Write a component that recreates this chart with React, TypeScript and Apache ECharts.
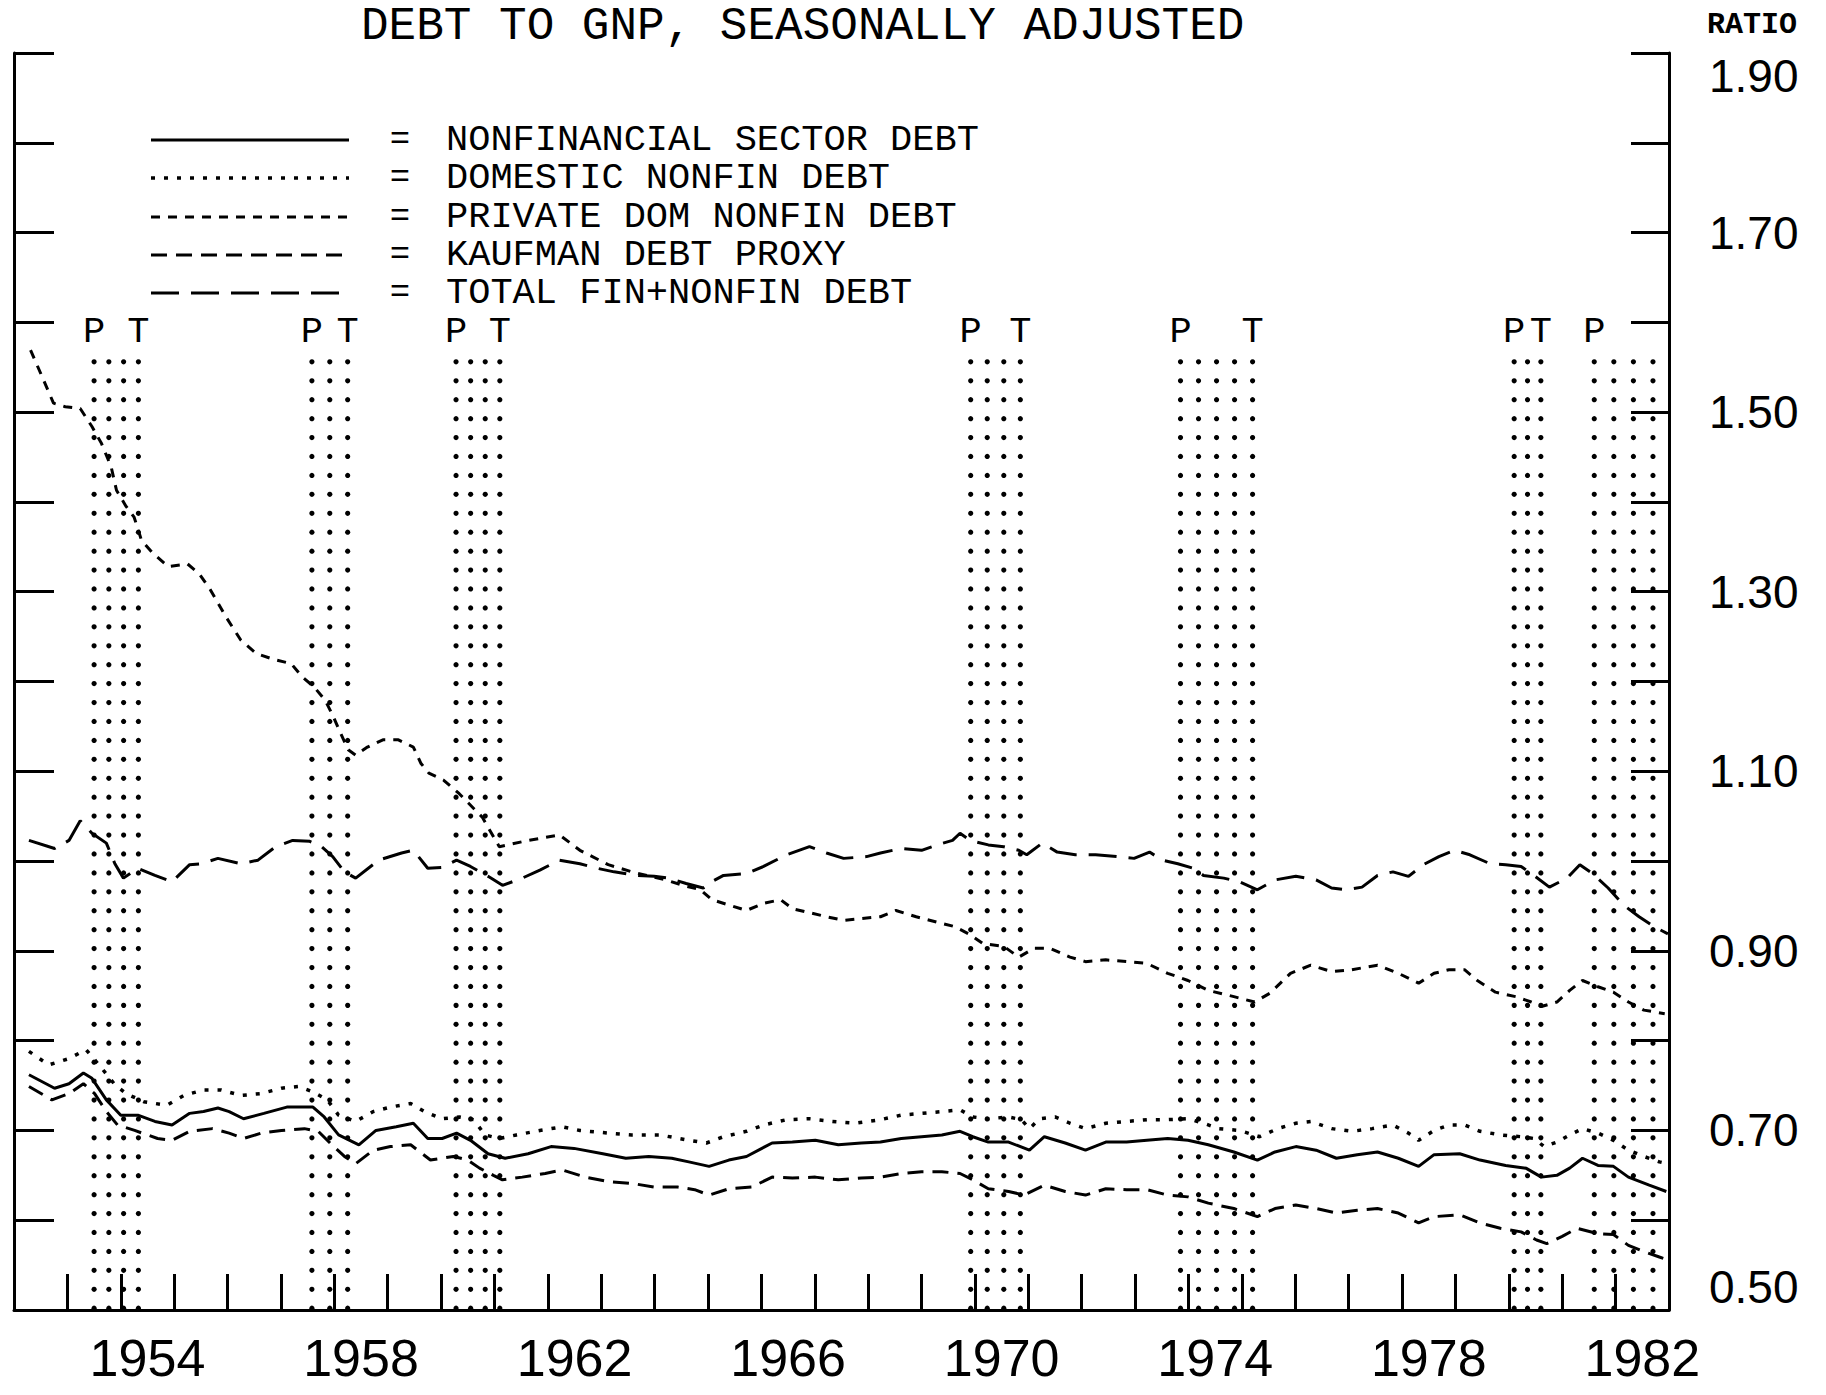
import React, { useEffect, useRef } from "react";
import * as echarts from "echarts";

const TITLE = "DEBT TO GNP, SEASONALLY ADJUSTED";
const UNIT_LABEL = "RATIO";
const SERIES_NAMES = [
  "NONFINANCIAL SECTOR DEBT",
  "DOMESTIC NONFIN DEBT",
  "PRIVATE DOM NONFIN DEBT",
  "KAUFMAN DEBT PROXY",
  "TOTAL FIN+NONFIN DEBT",
];

const nonfinYears = [
  1952.28, 1952.76, 1953.03, 1953.3, 1953.46, 1953.73, 1954.0, 1954.32, 1954.64, 1954.96,
  1955.29, 1955.55, 1955.82, 1956.03, 1956.3, 1956.68, 1957.11, 1957.6, 1957.81, 1958.08,
  1958.46, 1958.78, 1959.16, 1959.48, 1959.75, 1960.02, 1960.29, 1960.55, 1960.88, 1961.2,
  1961.63, 1962.06, 1962.49, 1963.03, 1963.46, 1963.89, 1964.32, 1964.64, 1965.02, 1965.39,
  1965.72, 1966.2, 1966.58, 1967.01, 1967.44, 1967.87, 1968.23, 1968.62, 1969.0, 1969.38,
  1969.72, 1969.96, 1970.25, 1970.63, 1971.02, 1971.3, 1971.69, 1972.07, 1972.45, 1972.84,
  1973.22, 1973.61, 1973.99, 1974.37, 1974.85, 1975.29, 1975.62, 1976.01, 1976.39, 1976.77,
  1977.16, 1977.54, 1977.93, 1978.31, 1978.6, 1979.08, 1979.46, 1979.94, 1980.32, 1980.61,
  1980.9, 1981.14, 1981.38, 1981.67, 1981.96, 1982.24, 1982.63, 1982.95,
];
const nonfinValues = [
  0.762, 0.747, 0.752, 0.764, 0.758, 0.734, 0.717, 0.717, 0.71, 0.706,
  0.719, 0.721, 0.725, 0.721, 0.713, 0.719, 0.726, 0.726, 0.715, 0.695,
  0.684, 0.7, 0.704, 0.708, 0.691, 0.691, 0.697, 0.689, 0.674, 0.669,
  0.674, 0.682, 0.68, 0.674, 0.669, 0.671, 0.669, 0.665, 0.66, 0.667,
  0.671, 0.686, 0.687, 0.689, 0.684, 0.686, 0.687, 0.691, 0.693, 0.695,
  0.699, 0.693, 0.687, 0.687, 0.678, 0.693, 0.686, 0.678, 0.687, 0.687,
  0.689, 0.691, 0.689, 0.684, 0.676, 0.667, 0.676, 0.682, 0.678, 0.669,
  0.673, 0.676, 0.669, 0.66, 0.673, 0.674, 0.667, 0.661, 0.658, 0.648,
  0.65, 0.658, 0.669, 0.661, 0.66, 0.648, 0.639, 0.632,
];

const domesticYears = [
  1952.28, 1952.65, 1953.03, 1953.35, 1953.62, 1953.89, 1954.1, 1954.43, 1954.86, 1955.18,
  1955.55, 1955.88, 1956.25, 1956.63, 1957.01, 1957.33, 1957.6, 1957.87, 1958.08, 1958.4,
  1958.73, 1959.05, 1959.43, 1959.69, 1960.02, 1960.34, 1960.61, 1960.82, 1961.09, 1961.41,
  1961.85, 1962.27, 1962.6, 1963.13, 1963.57, 1964.1, 1964.64, 1964.97, 1965.29, 1965.72,
  1966.04, 1966.47, 1966.9, 1967.33, 1967.76, 1968.23, 1968.62, 1969.0, 1969.38, 1969.72,
  1969.96, 1970.25, 1970.63, 1970.87, 1971.02, 1971.21, 1971.5, 1971.78, 1972.07, 1972.45,
  1972.84, 1973.22, 1973.61, 1973.99, 1974.28, 1974.57, 1974.95, 1975.33, 1975.67, 1976.01,
  1976.29, 1976.68, 1977.06, 1977.44, 1977.83, 1978.12, 1978.31, 1978.6, 1978.88, 1979.17,
  1979.46, 1979.84, 1980.23, 1980.47, 1980.66, 1980.9, 1981.14, 1981.38, 1981.67, 1981.96,
  1982.24, 1982.53, 1982.82, 1982.97,
];
const domesticValues = [
  0.788, 0.773, 0.78, 0.79, 0.771, 0.751, 0.741, 0.732, 0.728, 0.739,
  0.745, 0.745, 0.739, 0.741, 0.747, 0.749, 0.743, 0.734, 0.717, 0.71,
  0.721, 0.726, 0.73, 0.721, 0.713, 0.715, 0.712, 0.695, 0.691, 0.695,
  0.7, 0.704, 0.7, 0.697, 0.695, 0.695, 0.689, 0.686, 0.693, 0.699,
  0.706, 0.712, 0.713, 0.71, 0.708, 0.712, 0.717, 0.719, 0.721, 0.723,
  0.715, 0.713, 0.715, 0.712, 0.702, 0.713, 0.715, 0.708, 0.702, 0.708,
  0.71, 0.712, 0.712, 0.713, 0.708, 0.702, 0.7, 0.693, 0.702, 0.708,
  0.71, 0.702, 0.699, 0.702, 0.706, 0.697, 0.689, 0.7, 0.706, 0.706,
  0.699, 0.695, 0.693, 0.691, 0.682, 0.687, 0.695, 0.702, 0.697, 0.689,
  0.678, 0.671, 0.665, 0.663,
];

const privateYears = [
  1952.31, 1952.53, 1952.74, 1952.96, 1953.24, 1953.46, 1953.64, 1953.82, 1953.92, 1954.1,
  1954.25, 1954.39, 1954.6, 1954.89, 1955.25, 1955.47, 1955.68, 1955.97, 1956.25, 1956.54,
  1956.9, 1957.19, 1957.4, 1957.62, 1957.83, 1957.98, 1958.12, 1958.26, 1958.4, 1958.62,
  1958.91, 1959.2, 1959.48, 1959.62, 1959.77, 1960.05, 1960.34, 1960.77, 1961.09, 1961.63,
  1962.22, 1962.6, 1963.13, 1963.57, 1964.21, 1964.53, 1964.86, 1965.07, 1965.72, 1966.04,
  1966.36, 1966.58, 1967.22, 1967.54, 1967.87, 1968.23, 1968.52, 1968.9, 1969.29, 1969.62,
  1969.91, 1970.15, 1970.54, 1970.82, 1971.11, 1971.4, 1971.78, 1972.07, 1972.45, 1972.84,
  1973.22, 1973.61, 1973.99, 1974.37, 1974.85, 1975.24, 1975.53, 1975.91, 1976.29, 1976.68,
  1977.06, 1977.54, 1977.93, 1978.31, 1978.6, 1978.88, 1979.17, 1979.41, 1979.75, 1980.13,
  1980.42, 1980.61, 1980.9, 1981.14, 1981.38, 1981.67, 1981.96, 1982.24, 1982.53, 1982.92,
];
const privateValues = [
  1.569, 1.539, 1.51, 1.506, 1.504, 1.484, 1.465, 1.439, 1.413, 1.395,
  1.383, 1.357, 1.343, 1.328, 1.331, 1.32, 1.302, 1.272, 1.246, 1.231,
  1.224, 1.22, 1.205, 1.194, 1.179, 1.161, 1.142, 1.124, 1.118, 1.127,
  1.135, 1.135, 1.127, 1.109, 1.098, 1.09, 1.075, 1.049, 1.016, 1.023,
  1.029, 1.012, 0.996, 0.988, 0.979, 0.973, 0.968, 0.957, 0.945, 0.953,
  0.957, 0.947, 0.938, 0.934, 0.936, 0.938, 0.945, 0.938, 0.932, 0.927,
  0.918, 0.908, 0.905, 0.893, 0.903, 0.903, 0.893, 0.888, 0.89, 0.888,
  0.886, 0.875, 0.867, 0.856, 0.849, 0.843, 0.853, 0.875, 0.884, 0.877,
  0.879, 0.884, 0.875, 0.864, 0.875, 0.879, 0.879, 0.867, 0.854, 0.849,
  0.843, 0.838, 0.843, 0.856, 0.867, 0.86, 0.854, 0.843, 0.834, 0.83,
];

const kaufmanYears = [
  1952.28, 1952.71, 1953.03, 1953.3, 1953.51, 1953.73, 1953.94, 1954.26, 1954.69, 1954.96,
  1955.29, 1955.72, 1956.03, 1956.3, 1956.63, 1957.01, 1957.44, 1957.7, 1957.92, 1958.19,
  1958.4, 1958.73, 1959.05, 1959.43, 1959.8, 1960.23, 1960.5, 1960.72, 1960.98, 1961.15,
  1961.52, 1961.95, 1962.27, 1962.7, 1963.13, 1963.57, 1963.99, 1964.43, 1964.75, 1965.02,
  1965.39, 1965.82, 1966.2, 1966.58, 1967.01, 1967.44, 1967.87, 1968.23, 1968.62, 1969.0,
  1969.38, 1969.72, 1969.96, 1970.25, 1970.63, 1970.92, 1971.3, 1971.69, 1972.07, 1972.45,
  1972.84, 1973.22, 1973.61, 1973.99, 1974.37, 1974.85, 1975.29, 1975.62, 1976.01, 1976.39,
  1976.77, 1977.16, 1977.54, 1977.93, 1978.31, 1978.6, 1979.08, 1979.46, 1979.84, 1980.23,
  1980.52, 1980.71, 1981.0, 1981.28, 1981.67, 1981.96, 1982.24, 1982.53, 1982.82, 1982.97,
];
const kaufmanValues = [
  0.749, 0.734, 0.741, 0.752, 0.741, 0.721, 0.706, 0.7, 0.691, 0.689,
  0.699, 0.702, 0.697, 0.691, 0.697, 0.7, 0.702, 0.699, 0.686, 0.671,
  0.663, 0.678, 0.682, 0.684, 0.667, 0.671, 0.667, 0.658, 0.65, 0.645,
  0.648, 0.652, 0.656, 0.648, 0.643, 0.641, 0.637, 0.637, 0.634, 0.628,
  0.635, 0.637, 0.648, 0.647, 0.648, 0.645, 0.647, 0.648, 0.652, 0.654,
  0.654, 0.652, 0.645, 0.635, 0.632, 0.628, 0.639, 0.632, 0.628, 0.635,
  0.634, 0.634, 0.628, 0.626, 0.619, 0.613, 0.604, 0.613, 0.617, 0.613,
  0.608, 0.611, 0.613, 0.608, 0.597, 0.604, 0.606, 0.597, 0.591, 0.587,
  0.578, 0.574, 0.582, 0.591, 0.585, 0.584, 0.572, 0.565, 0.559, 0.556,
];

const totalYears = [
  1952.28, 1952.76, 1953.03, 1953.24, 1953.46, 1953.73, 1953.89, 1954.05, 1954.32, 1954.64,
  1954.96, 1955.29, 1955.5, 1955.82, 1956.25, 1956.57, 1956.9, 1957.22, 1957.54, 1957.76,
  1957.97, 1958.19, 1958.4, 1958.83, 1959.26, 1959.48, 1959.75, 1960.02, 1960.29, 1960.55,
  1960.88, 1961.15, 1961.52, 1961.85, 1962.22, 1962.6, 1962.92, 1963.24, 1963.67, 1963.99,
  1964.26, 1964.59, 1964.91, 1965.07, 1965.29, 1965.72, 1966.04, 1966.47, 1966.9, 1967.22,
  1967.54, 1967.97, 1968.23, 1968.62, 1969.0, 1969.29, 1969.58, 1969.72, 1969.91, 1970.25,
  1970.54, 1970.82, 1970.97, 1971.26, 1971.54, 1971.88, 1972.26, 1972.65, 1972.98, 1973.27,
  1973.51, 1973.8, 1974.09, 1974.28, 1974.66, 1974.95, 1975.29, 1975.62, 1976.01, 1976.39,
  1976.68, 1976.97, 1977.25, 1977.54, 1977.83, 1978.12, 1978.4, 1978.69, 1978.98, 1979.27,
  1979.65, 1979.94, 1980.23, 1980.47, 1980.76, 1981.09, 1981.33, 1981.57, 1981.86, 1982.15,
  1982.44, 1982.72, 1982.98,
];
const totalValues = [
  1.023, 1.014, 1.023, 1.045, 1.031, 1.02, 0.997, 0.981, 0.992, 0.984,
  0.977, 0.996, 0.997, 1.003, 0.997, 1.001, 1.016, 1.023, 1.022, 1.016,
  1.005, 0.988, 0.981, 1.001, 1.009, 1.012, 0.992, 0.993, 1.001, 0.994,
  0.983, 0.973, 0.981, 0.99, 1.001, 0.997, 0.992, 0.988, 0.984, 0.983,
  0.981, 0.975, 0.97, 0.977, 0.984, 0.986, 0.994, 1.007, 1.016, 1.009,
  1.003, 1.005, 1.009, 1.014, 1.012, 1.018, 1.023, 1.031, 1.023, 1.018,
  1.016, 1.012, 1.007, 1.02, 1.01, 1.007, 1.007, 1.005, 1.003, 1.01,
  1.001, 0.997, 0.992, 0.984, 0.981, 0.977, 0.968, 0.979, 0.983, 0.979,
  0.97, 0.968, 0.971, 0.984, 0.988, 0.983, 0.996, 1.005, 1.012, 1.007,
  0.997, 0.996, 0.994, 0.984, 0.971, 0.981, 0.996, 0.986, 0.97, 0.951,
  0.938, 0.927, 0.919,
];

// Business-cycle reference dates (peak P, trough T) as drawn
const recessionPeaks = [1953.5, 1957.58, 1960.28, 1969.92, 1973.85, 1980.1, 1981.6];
const recessionTroughs = [1954.33, 1958.25, 1961.1, 1970.85, 1975.2, 1980.6, 1982.7];
const recessionColumns = [4, 3, 4, 4, 5, 3, 4];
const troughLabelShown = [1, 1, 1, 1, 1, 1, 0];

const xLabelYears = [1954, 1958, 1962, 1966, 1970, 1974, 1978, 1982];
const yLabelTexts = ["0.50", "0.70", "0.90", "1.10", "1.30", "1.50", "1.70", "1.90"];

const MONO = "'Liberation Mono', 'DejaVu Sans Mono', monospace";
const SANS = "'Liberation Sans', Arial, sans-serif";

const SERIES_DASH: any[] = ["solid", [4, 9], [9, 8], [16, 9], [28, 12]];
const LEGEND_ROWS = [140, 178, 217, 255, 293];

const DOT_BOTTOM = 0.502;
const DOT_TOP = 1.556;
const DOT_ROWS = 51;
const PT_LABEL_V = 1.589;

export default function App() {
  const ref = useRef<HTMLDivElement>(null);

  useEffect(() => {
    if (!ref.current) return;
    const chart = echarts.init(ref.current, undefined, { renderer: "svg" });

    const seriesData = [
      nonfinYears.map((t, i) => [t, nonfinValues[i]]),
      domesticYears.map((t, i) => [t, domesticValues[i]]),
      privateYears.map((t, i) => [t, privateValues[i]]),
      kaufmanYears.map((t, i) => [t, kaufmanValues[i]]),
      totalYears.map((t, i) => [t, totalValues[i]]),
    ];

    const recessionData = recessionPeaks.map((p, i) => [
      p,
      recessionTroughs[i],
      recessionColumns[i],
      troughLabelShown[i],
    ]);

    const lineSeries = seriesData.map((data, i) => ({
      name: SERIES_NAMES[i],
      type: "line",
      xAxisIndex: 0,
      yAxisIndex: 0,
      data,
      showSymbol: false,
      symbol: "none",
      smooth: false,
      z: 5,
      lineStyle: { color: "#000", width: i === 1 ? 3.5 : 3, type: SERIES_DASH[i] },
    }));

    const legendGraphics: any[] = [];
    SERIES_NAMES.forEach((name, i) => {
      const y = LEGEND_ROWS[i];
      legendGraphics.push({
        type: "line",
        shape: { x1: 151, y1: y, x2: 349, y2: y },
        style: {
          stroke: "#000",
          lineWidth: i === 1 ? 3.5 : 3,
          lineDash: SERIES_DASH[i] === "solid" ? null : SERIES_DASH[i],
        },
      });
      legendGraphics.push({
        type: "text",
        x: 400,
        y,
        style: {
          text: "=",
          fill: "#000",
          fontSize: 34,
          fontFamily: MONO,
          align: "center",
          verticalAlign: "middle",
          textAlign: "center",
          textVerticalAlign: "middle",
        },
      });
      legendGraphics.push({
        type: "text",
        x: 446,
        y,
        style: {
          text: name,
          fill: "#000",
          fontSize: 37,
          fontFamily: MONO,
          align: "left",
          verticalAlign: "middle",
          textAlign: "left",
          textVerticalAlign: "middle",
        },
      });
    });

    const option: any = {
      animation: false,
      backgroundColor: "#fff",
      grid: {
        left: 14,
        right: 157,
        top: 53,
        bottom: 85,
        containLabel: false,
        outerBoundsMode: "none",
      },
      xAxis: [
        {
          type: "value",
          min: 1952,
          max: 1983,
          interval: 1,
          position: "bottom",
          axisLine: { show: true, onZero: false, lineStyle: { color: "#000", width: 3 } },
          axisTick: { show: true, inside: true, length: 36, lineStyle: { color: "#000", width: 3 } },
          axisLabel: { show: false },
          splitLine: { show: false },
        },
        {
          type: "value",
          min: 1952,
          max: 1983,
          interval: 0.5,
          position: "bottom",
          axisLine: { show: false },
          axisTick: { show: false },
          splitLine: { show: false },
          axisLabel: {
            show: true,
            margin: 22,
            color: "#000",
            fontSize: 52,
            fontFamily: SANS,
            showMinLabel: false,
            showMaxLabel: false,
            formatter: (v: number) => {
              const y = Math.round(v - 0.5);
              return Math.abs(v - 0.5 - y) < 1e-6 && xLabelYears.includes(y) ? String(y) : "";
            },
          },
        },
      ],
      yAxis: [
        {
          type: "value",
          min: 0.5,
          max: 1.9,
          interval: 0.1,
          position: "left",
          axisLine: { show: true, onZero: false, lineStyle: { color: "#000", width: 3 } },
          axisTick: { show: true, inside: true, length: 40, lineStyle: { color: "#000", width: 3 } },
          axisLabel: { show: false },
          splitLine: { show: false },
        },
        {
          type: "value",
          min: 0.5,
          max: 1.9,
          interval: 0.1,
          position: "right",
          axisLine: { show: true, onZero: false, lineStyle: { color: "#000", width: 3 } },
          axisTick: { show: true, inside: true, length: 38, lineStyle: { color: "#000", width: 3 } },
          splitLine: { show: false },
          axisLabel: {
            show: true,
            margin: 40,
            color: "#000",
            fontSize: 46,
            fontFamily: SANS,
            verticalAlignMinLabel: "bottom",
            verticalAlignMaxLabel: "top",
            formatter: (v: number) => {
              const s = v.toFixed(2);
              return yLabelTexts.includes(s) ? s : "";
            },
          },
        },
      ],
      series: [
        {
          type: "custom",
          name: "recessions",
          xAxisIndex: 0,
          yAxisIndex: 0,
          clip: false,
          z: 1,
          silent: true,
          data: recessionData,
          encode: { x: [0, 1] },
          renderItem: (params: any, api: any) => {
            const p = api.value(0);
            const tr = api.value(1);
            const n = api.value(2);
            const showT = api.value(3);
            const pb = api.coord([p, DOT_BOTTOM]);
            const pt = api.coord([tr, DOT_TOP]);
            const x0 = pb[0];
            const x1 = pt[0];
            const yb = pb[1];
            const yt = pt[1];
            const children: any[] = [];
            for (let c = 0; c < n; c++) {
              const x = n === 1 ? x0 : x0 + ((x1 - x0) * c) / (n - 1);
              for (let r = 0; r < DOT_ROWS; r++) {
                const y = yb + ((yt - yb) * r) / (DOT_ROWS - 1);
                children.push({
                  type: "circle",
                  shape: { cx: x, cy: y, r: 2.6 },
                  style: { fill: "#000" },
                });
              }
            }
            const ly = api.coord([p, PT_LABEL_V])[1];
            children.push({
              type: "text",
              x: x0,
              y: ly,
              style: {
                text: "P",
                fill: "#000",
                fontSize: 37,
                fontFamily: MONO,
                align: "center",
                verticalAlign: "middle",
              },
            });
            if (showT) {
              children.push({
                type: "text",
                x: x1,
                y: ly,
                style: {
                  text: "T",
                  fill: "#000",
                  fontSize: 37,
                  fontFamily: MONO,
                  align: "center",
                  verticalAlign: "middle",
                },
              });
            }
            return { type: "group", children };
          },
        },
        ...lineSeries,
      ],
      graphic: [
        {
          type: "text",
          x: 361,
          y: 27,
          style: {
            text: TITLE,
            fill: "#000",
            fontSize: 46,
            fontFamily: MONO,
            align: "left",
            verticalAlign: "middle",
            textAlign: "left",
            textVerticalAlign: "middle",
          },
        },
        {
          type: "text",
          x: 1752,
          y: 25,
          style: {
            text: UNIT_LABEL,
            fill: "#000",
            fontSize: 30,
            fontWeight: "bold",
            fontFamily: MONO,
            align: "center",
            verticalAlign: "middle",
            textAlign: "center",
            textVerticalAlign: "middle",
          },
        },
        ...legendGraphics,
      ],
    };

    chart.setOption(option);
    return () => {
      chart.dispose();
    };
  }, []);

  return (
    <div
      ref={ref}
      style={{
        position: "absolute",
        left: 0,
        top: 0,
        width: 1826,
        height: 1395,
        background: "#fff",
      }}
    />
  );
}
